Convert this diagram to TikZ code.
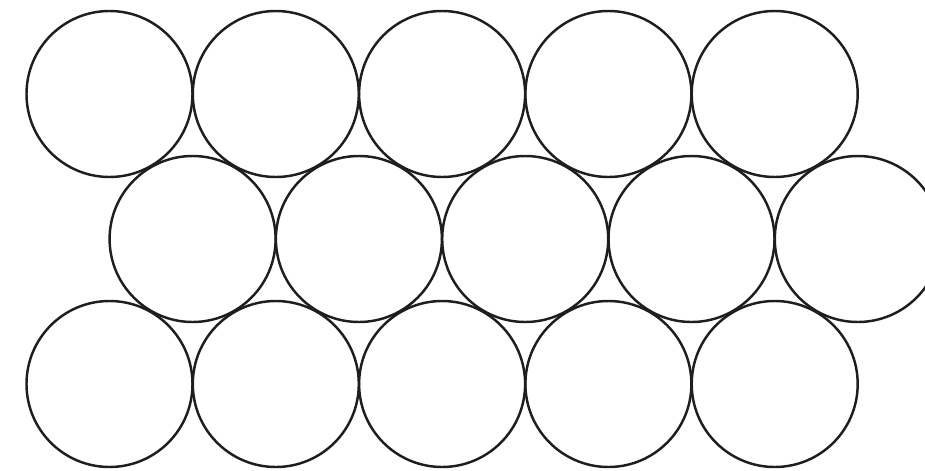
\documentclass[tikz,border=0pt]{standalone}
\usepackage{tikz}
\usetikzlibrary{calc}

\definecolor{ringgray}{HTML}{1E1E1E}
\tikzset{disc/.style={draw=ringgray, line width=1.4pt}}

\begin{document}
\begin{tikzpicture}[x=0.02cm, y=-0.02cm]
  \useasboundingbox (0,0) rectangle (925,470);
  \clip (0,0) rectangle (925,470);

  % Fila superior
  \begin{scope}[shift={(109.5,94)}]
    \coordinate (A1) at (0,0);
    \coordinate (A2) at (166.3,0);
    \coordinate (A3) at (332.6,0);
    \coordinate (A4) at (498.9,0);
    \coordinate (A5) at (665.2,0);
    \draw[disc] (A1) circle (83);
    \draw[disc] (A2) circle (83);
    \draw[disc] (A3) circle (83);
    \draw[disc] (A4) circle (83);
    \draw[disc] (A5) circle (83);
  \end{scope}

  % Fila central (desplazada medio diametro)
  \begin{scope}[shift={(192.6,239)}]
    \coordinate (B1) at (0,0);
    \coordinate (B2) at (166.3,0);
    \coordinate (B3) at (332.6,0);
    \coordinate (B4) at (498.9,0);
    \coordinate (B5) at (665.2,0);
    \draw[disc] (B1) circle (83);
    \draw[disc] (B2) circle (83);
    \draw[disc] (B3) circle (83);
    \draw[disc] (B4) circle (83);
    \draw[disc] (B5) circle (83);
  \end{scope}

  % Fila inferior
  \begin{scope}[shift={(109.5,384)}]
    \coordinate (C1) at (0,0);
    \coordinate (C2) at (166.3,0);
    \coordinate (C3) at (332.6,0);
    \coordinate (C4) at (498.9,0);
    \coordinate (C5) at (665.2,0);
    \draw[disc] (C1) circle (83);
    \draw[disc] (C2) circle (83);
    \draw[disc] (C3) circle (83);
    \draw[disc] (C4) circle (83);
    \draw[disc] (C5) circle (83);
  \end{scope}
\end{tikzpicture}
\end{document}
